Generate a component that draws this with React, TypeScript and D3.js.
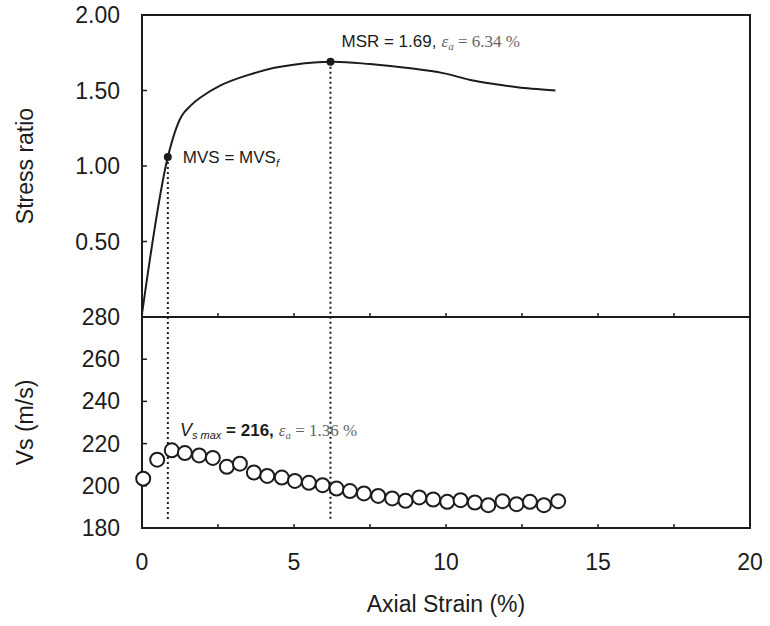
import React from 'react';
import * as d3 from 'd3';

// axis ticks
const strainTicks = [0, 2.5, 5, 7.5, 10, 12.5, 15, 17.5, 20];
const strainLabels = [0, 5, 10, 15, 20];
const ratioTicks = [0.5, 1.0, 1.5, 2.0];
const vsTicks = [180, 200, 220, 240, 260, 280];

// stress ratio curve
const ratioStrain = [0, 0.85, 1.3, 1.6, 1.9, 2.6, 3.45, 4.5, 6.2, 7.5, 8.9, 9.9, 10.8, 11.7, 12.4, 13.6];
const ratioValues = [0.02, 1.06, 1.33, 1.4, 1.45, 1.535, 1.6, 1.655, 1.69, 1.675, 1.645, 1.615, 1.57, 1.54, 1.52, 1.5];

// shear wave velocity
const vsStrain = [0.04, 0.5, 0.98, 1.41, 1.88, 2.33, 2.79, 3.22, 3.68, 4.12, 4.6, 5.03, 5.49, 5.94, 6.4, 6.84,
  7.3, 7.77, 8.23, 8.67, 9.12, 9.58, 10.04, 10.48, 10.95, 11.39, 11.86, 12.32, 12.76, 13.22, 13.69];
const vsValues = [203.4, 212.4, 216.8, 215.5, 214.4, 213.2, 209, 210.5, 206.3, 204.7, 203.9, 202.3, 201.4, 200.3,
  198.7, 197.5, 196.4, 195.2, 194, 192.9, 194.5, 193.5, 192.4, 193.2, 192.1, 190.8, 192.7, 191.3, 192.4, 190.8, 192.7];

const mvs = { strain: 0.85, ratio: 1.06 };
const msr = { strain: 6.2, ratio: 1.69 };
const dropTo = 183; // where the dotted guides stop in the Vs panel

const ink = '#1c1c1c';
const sans = '"Liberation Sans", Arial, sans-serif';
const serif = '"Liberation Serif", "Times New Roman", serif';

export default function App() {
  const x = d3.scaleLinear().domain([0, 20]).range([142, 750]);
  const yTop = d3.scaleLinear().domain([0, 2]).range([317, 15]);
  const yBot = d3.scaleLinear().domain([180, 280]).range([528, 317]);

  const line = d3.line<number>()
    .curve(d3.curveCatmullRom.alpha(0.5))
    .x((d, i) => x(ratioStrain[i]))
    .y(d => yTop(d));

  const [x0, x1] = x.range();
  const top = yTop(2), mid = yTop(0), bot = yBot(180);

  return (
    <svg width={770} height={626} style={{ position: 'absolute', left: 0, top: 0, background: '#fff' }}>
      {/* frame */}
      <rect x={x0} y={top} width={x1 - x0} height={bot - top} fill="none" stroke={ink} strokeWidth={2} />
      <line x1={x0} x2={x1} y1={mid} y2={mid} stroke={ink} strokeWidth={2} />

      {/* x ticks on divider and bottom */}
      {strainTicks.slice(1, -1).map(t => (
        <g key={t}>
          <line x1={x(t)} x2={x(t)} y1={mid} y2={mid - 4} stroke={ink} strokeWidth={1.5} />
          <line x1={x(t)} x2={x(t)} y1={bot} y2={bot - 4} stroke={ink} strokeWidth={1.5} />
        </g>
      ))}
      {strainLabels.map(t => (
        <text key={t} x={x(t)} y={570} textAnchor="middle" fontFamily={sans} fontSize={23} fill={ink}>{t}</text>
      ))}

      {/* y ticks */}
      {ratioTicks.map(t => (
        <g key={t}>
          {t < 2 && <line x1={x0} x2={x0 + 5} y1={yTop(t)} y2={yTop(t)} stroke={ink} strokeWidth={1.5} />}
          <text x={120} y={yTop(t) + 8} textAnchor="end" fontFamily={sans} fontSize={23} fill={ink}>{d3.format('.2f')(t)}</text>
        </g>
      ))}
      {vsTicks.map(t => (
        <g key={t}>
          {t > 180 && t < 280 && <line x1={x0} x2={x0 + 5} y1={yBot(t)} y2={yBot(t)} stroke={ink} strokeWidth={1.5} />}
          <text x={120} y={yBot(t) + 8} textAnchor="end" fontFamily={sans} fontSize={23} fill={ink}>{t}</text>
        </g>
      ))}

      {/* axis titles */}
      <text transform={`translate(33,${(top + mid) / 2}) rotate(-90)`} textAnchor="middle" fontFamily={sans} fontSize={23} fill={ink}>Stress ratio</text>
      <text transform={`translate(33,${(mid + bot) / 2}) rotate(-90)`} textAnchor="middle" fontFamily={sans} fontSize={23} fill={ink}>Vs (m/s)</text>
      <text x={(x0 + x1) / 2} y={612} textAnchor="middle" fontFamily={sans} fontSize={23} fill={ink}>Axial Strain (%)</text>

      {/* dotted guides */}
      {[mvs, msr].map((p, i) => (
        <line key={i} x1={x(p.strain)} x2={x(p.strain)} y1={yTop(p.ratio)} y2={yBot(dropTo)}
          stroke={ink} strokeWidth={2} strokeDasharray="2,3" />
      ))}

      {/* stress ratio curve */}
      <path d={line(ratioValues) || ''} fill="none" stroke={ink} strokeWidth={2} />
      {[mvs, msr].map((p, i) => (
        <circle key={i} cx={x(p.strain)} cy={yTop(p.ratio)} r={4} fill={ink} />
      ))}

      {/* Vs points */}
      {vsValues.map((v, i) => (
        <circle key={i} cx={x(vsStrain[i])} cy={yBot(v)} r={7} fill="#fff" stroke={ink} strokeWidth={2} />
      ))}

      {/* annotations */}
      <text x={x(mvs.strain) + 15} y={yTop(mvs.ratio) + 6} fontFamily={sans} fontSize={17} fill={ink}>
        MVS = MVS<tspan fontStyle="italic" fontSize={11} dy={4}>f</tspan>
      </text>
      <text x={x(msr.strain) + 11} y={47} fontFamily={sans} fontSize={17} fill={ink}>
        MSR = 1.69,
        <tspan fontFamily={serif} fill="#666" fontSize={17} dx={5} fontStyle="italic">ε</tspan>
        <tspan fontFamily={serif} fill="#666" fontSize={11} fontStyle="italic" dy={3}>a</tspan>
        <tspan fontFamily={serif} fill="#666" fontSize={17} dy={-3}> = 6.34 %</tspan>
      </text>
      <text x={180} y={436} fontFamily={sans} fontSize={17} fill={ink}>
        <tspan fontStyle="italic" fontSize={18}>V</tspan>
        <tspan fontStyle="italic" fontSize={11} dy={3}>s max</tspan>
        <tspan fontWeight={600} dy={-3}> = 216,</tspan>
        <tspan fontFamily={serif} fill="#666" fontSize={17} dx={5} fontStyle="italic">ε</tspan>
        <tspan fontFamily={serif} fill="#666" fontSize={11} fontStyle="italic" dy={3}>a</tspan>
        <tspan fontFamily={serif} fill="#666" fontSize={17} dy={-3}> = 1.36 %</tspan>
      </text>
    </svg>
  );
}
